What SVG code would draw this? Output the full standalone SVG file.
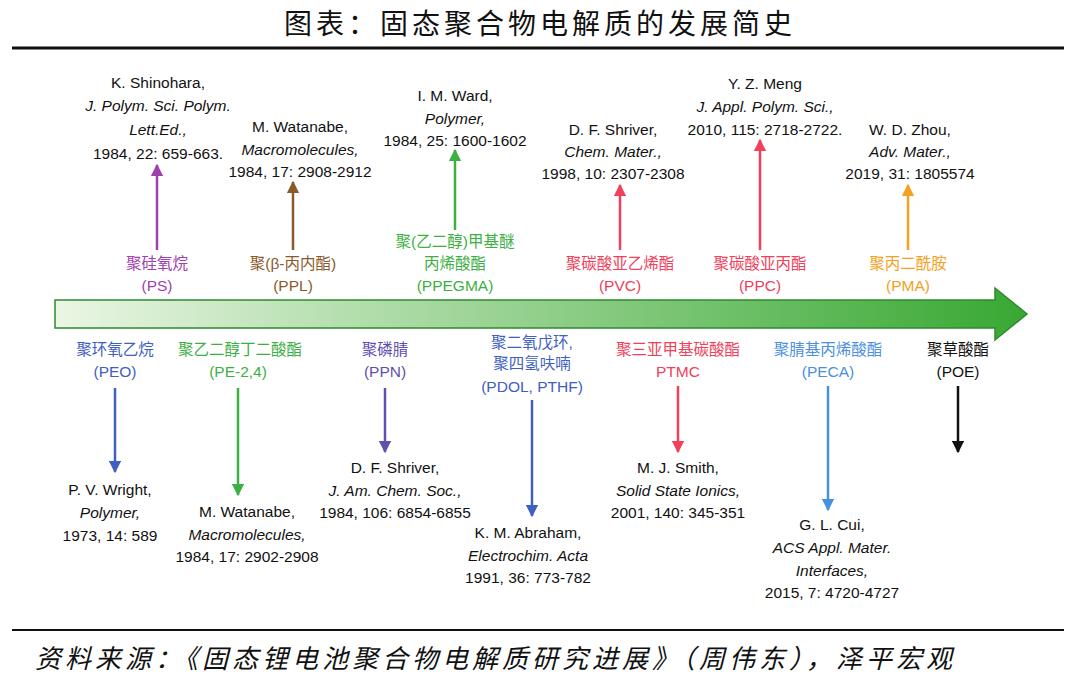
<svg xmlns="http://www.w3.org/2000/svg" width="1080" height="689" viewBox="0 0 1080 689">
<style>
text{font-family:"Liberation Sans","Noto Sans CJK SC",sans-serif;font-size:15.5px;text-anchor:middle;fill:#111}
.i{font-style:italic}
.t{font-family:"Noto Sans CJK SC",serif;font-size:28px;letter-spacing:4px}
.f{font-family:"Noto Sans CJK SC",sans-serif;font-size:26px;font-style:italic;text-anchor:start;letter-spacing:4px}
.c line{stroke-width:2.5}
</style>
<defs>
<linearGradient id="g" x1="0" x2="1" y1="0" y2="0"><stop offset="0" stop-color="#eaf6e4"/><stop offset="1" stop-color="#38a832"/></linearGradient>
<marker id="m1" viewBox="0 0 10 10" refX="9" refY="5" markerWidth="5" markerHeight="5" orient="auto"><path d="M0 0L10 5L0 10z" fill="#a040b0"/></marker>
<marker id="m2" viewBox="0 0 10 10" refX="9" refY="5" markerWidth="5" markerHeight="5" orient="auto"><path d="M0 0L10 5L0 10z" fill="#8b5a2b"/></marker>
<marker id="m3" viewBox="0 0 10 10" refX="9" refY="5" markerWidth="5" markerHeight="5" orient="auto"><path d="M0 0L10 5L0 10z" fill="#3cb043"/></marker>
<marker id="m4" viewBox="0 0 10 10" refX="9" refY="5" markerWidth="5" markerHeight="5" orient="auto"><path d="M0 0L10 5L0 10z" fill="#f0405a"/></marker>
<marker id="m5" viewBox="0 0 10 10" refX="9" refY="5" markerWidth="5" markerHeight="5" orient="auto"><path d="M0 0L10 5L0 10z" fill="#f5a020"/></marker>
<marker id="m6" viewBox="0 0 10 10" refX="9" refY="5" markerWidth="5" markerHeight="5" orient="auto"><path d="M0 0L10 5L0 10z" fill="#4060c0"/></marker>
<marker id="m7" viewBox="0 0 10 10" refX="9" refY="5" markerWidth="5" markerHeight="5" orient="auto"><path d="M0 0L10 5L0 10z" fill="#6050b0"/></marker>
<marker id="m8" viewBox="0 0 10 10" refX="9" refY="5" markerWidth="5" markerHeight="5" orient="auto"><path d="M0 0L10 5L0 10z" fill="#4a90e0"/></marker>
<marker id="m9" viewBox="0 0 10 10" refX="9" refY="5" markerWidth="5" markerHeight="5" orient="auto"><path d="M0 0L10 5L0 10z" fill="#111"/></marker>
</defs>
<rect width="1080" height="689" fill="#fff"/>
<text class="t" x="540" y="34">图表：固态聚合物电解质的发展简史</text>
<line x1="12" y1="48" x2="1064" y2="48" stroke="#111" stroke-width="3"/>
<line x1="12" y1="630" x2="1064" y2="630" stroke="#111" stroke-width="2"/>
<text class="f" x="35" y="668">资料来源：《固态锂电池聚合物电解质研究进展》（周伟东），泽平宏观</text>
<path id="timeline" d="M55 300H995V288L1027 314L995 340V328H55Z" fill="url(#g)" stroke="#2e8b2e" stroke-width="1.5"/>
<g class="c">
<line x1="157" y1="250" x2="157" y2="165" stroke="#a040b0" marker-end="url(#m1)"/>
<line x1="293" y1="250" x2="293" y2="182" stroke="#8b5a2b" marker-end="url(#m2)"/>
<line x1="455" y1="230" x2="455" y2="150" stroke="#3cb043" marker-end="url(#m3)"/>
<line x1="620" y1="250" x2="620" y2="185" stroke="#f0405a" marker-end="url(#m4)"/>
<line x1="760" y1="250" x2="760" y2="140" stroke="#f0405a" marker-end="url(#m4)"/>
<line x1="908" y1="250" x2="908" y2="185" stroke="#f5a020" marker-end="url(#m5)"/>
<line x1="115" y1="388" x2="115" y2="472" stroke="#4060c0" marker-end="url(#m6)"/>
<line x1="238" y1="388" x2="238" y2="495" stroke="#3cb043" marker-end="url(#m3)"/>
<line x1="385" y1="388" x2="385" y2="452" stroke="#6050b0" marker-end="url(#m7)"/>
<line x1="532" y1="400" x2="532" y2="516" stroke="#4060c0" marker-end="url(#m6)"/>
<line x1="678" y1="386" x2="678" y2="452" stroke="#f0405a" marker-end="url(#m4)"/>
<line x1="828" y1="386" x2="828" y2="510" stroke="#4a90e0" marker-end="url(#m8)"/>
<line x1="958" y1="386" x2="958" y2="452" stroke="#111" marker-end="url(#m9)"/>
</g>
<g id="ps"><text x="157" y="269" style="fill:#a040b0">聚硅氧烷</text><text x="157" y="291" style="fill:#a040b0">(PS)</text>
<text x="158" y="88">K. Shinohara,</text><text class="i" x="158" y="111">J. Polym. Sci. Polym.</text><text class="i" x="158" y="135">Lett.Ed.,</text><text x="158" y="159">1984, 22: 659-663.</text></g>
<g id="ppl"><text x="293" y="269" style="fill:#8b5a2b">聚(β-丙内酯)</text><text x="293" y="291" style="fill:#8b5a2b">(PPL)</text>
<text x="300" y="132">M. Watanabe,</text><text class="i" x="300" y="155">Macromolecules,</text><text x="300" y="177">1984, 17: 2908-2912</text></g>
<g id="ppegma"><text x="455" y="247" style="fill:#3cb043">聚(乙二醇)甲基醚</text><text x="455" y="269" style="fill:#3cb043">丙烯酸酯</text><text x="455" y="291" style="fill:#3cb043">(PPEGMA)</text>
<text x="455" y="101">I. M. Ward,</text><text class="i" x="455" y="124">Polymer,</text><text x="455" y="146">1984, 25: 1600-1602</text></g>
<g id="pvc"><text x="620" y="269" style="fill:#f0405a">聚碳酸亚乙烯酯</text><text x="620" y="291" style="fill:#f0405a">(PVC)</text>
<text x="613" y="135">D. F. Shriver,</text><text class="i" x="613" y="157">Chem. Mater.,</text><text x="613" y="179">1998, 10: 2307-2308</text></g>
<g id="ppc"><text x="760" y="269" style="fill:#f0405a">聚碳酸亚丙酯</text><text x="760" y="291" style="fill:#f0405a">(PPC)</text>
<text x="765" y="89">Y. Z. Meng</text><text class="i" x="765" y="112">J. Appl. Polym. Sci.,</text><text x="765" y="135">2010, 115: 2718-2722.</text></g>
<g id="pma"><text x="908" y="269" style="fill:#f5a020">聚丙二酰胺</text><text x="908" y="291" style="fill:#f5a020">(PMA)</text>
<text x="910" y="135">W. D. Zhou,</text><text class="i" x="910" y="157">Adv. Mater.,</text><text x="910" y="179">2019, 31: 1805574</text></g>
<g id="peo"><text x="115" y="355" style="fill:#4060c0">聚环氧乙烷</text><text x="115" y="377" style="fill:#4060c0">(PEO)</text>
<text x="110" y="495">P. V. Wright,</text><text class="i" x="110" y="518">Polymer,</text><text x="110" y="541">1973, 14: 589</text></g>
<g id="pe24"><text x="240" y="355" style="fill:#3cb043">聚乙二醇丁二酸酯</text><text x="238" y="377" style="fill:#3cb043">(PE-2,4)</text>
<text x="247" y="517">M. Watanabe,</text><text class="i" x="247" y="540">Macromolecules,</text><text x="247" y="562">1984, 17: 2902-2908</text></g>
<g id="ppn"><text x="385" y="355" style="fill:#6050b0">聚磷腈</text><text x="385" y="377" style="fill:#6050b0">(PPN)</text>
<text x="395" y="473">D. F. Shriver,</text><text class="i" x="395" y="496">J. Am. Chem. Soc.,</text><text x="395" y="518">1984, 106: 6854-6855</text></g>
<g id="pdol"><text x="532" y="348" style="fill:#4060c0">聚二氧戊环,</text><text x="532" y="369" style="fill:#4060c0">聚四氢呋喃</text><text x="532" y="392" style="fill:#4060c0">(PDOL, PTHF)</text>
<text x="528" y="538">K. M. Abraham,</text><text class="i" x="528" y="561">Electrochim. Acta</text><text x="528" y="583">1991, 36: 773-782</text></g>
<g id="ptmc"><text x="678" y="355" style="fill:#f0405a">聚三亚甲基碳酸酯</text><text x="678" y="377" style="fill:#f0405a">PTMC</text>
<text x="678" y="473">M. J. Smith,</text><text class="i" x="678" y="496">Solid State Ionics,</text><text x="678" y="518">2001, 140: 345-351</text></g>
<g id="peca"><text x="828" y="355" style="fill:#4a90e0">聚腈基丙烯酸酯</text><text x="828" y="377" style="fill:#4a90e0">(PECA)</text>
<text x="832" y="530">G. L. Cui,</text><text class="i" x="832" y="553">ACS Appl. Mater.</text><text class="i" x="832" y="576">Interfaces,</text><text x="832" y="598">2015, 7: 4720-4727</text></g>
<g id="poe"><text x="958" y="355">聚草酸酯</text><text x="958" y="377">(POE)</text></g>
</svg>
